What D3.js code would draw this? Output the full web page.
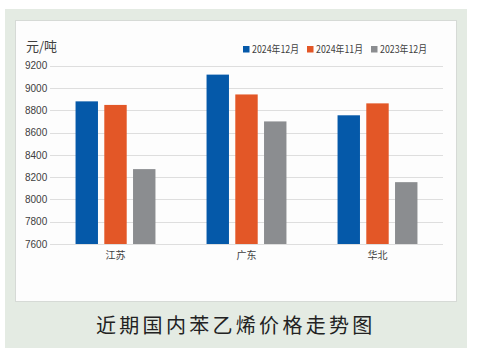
<!DOCTYPE html>
<html><head><meta charset="utf-8">
<script src="https://cdn.jsdelivr.net/npm/d3@7"></script>
<style>
html,body{margin:0;padding:0;background:#fff;}
svg{display:block;font-family:"Noto Sans CJK SC","Noto Sans",sans-serif;}
</style></head>
<body><svg id="c" width="485" height="361"></svg>
<script>
const categories = ["江苏","广东","华北"];
const seriesNames = ["2024年12月","2024年11月","2023年12月"];
const dec2024 = [8880, 9120, 8755];
const nov2024 = [8848, 8942, 8862];
const dec2023 = [8272, 8700, 8155];
const yTicks = [7600,7800,8000,8200,8400,8600,8800,9000,9200];
const colors = ["#0559a9","#e35727","#8b8d90"];
const unitLabel = "元/吨";
const title = "近期国内苯乙烯价格走势图";

const series = [dec2024, nov2024, dec2023];
const svg = d3.select("#c");

svg.append("rect").attr("x",5).attr("y",9).attr("width",462).attr("height",339).attr("fill","#e4ebe3");
svg.append("rect").attr("x",15.5).attr("y",20.5).attr("width",441).attr("height",281).attr("fill","#fdfdfd").attr("stroke","#d6dad6");

const x0 = d3.scaleBand().domain(categories).range([50,443]).paddingInner(0.39).paddingOuter(0.195);
const x1 = d3.scaleBand().domain(seriesNames).range([0,x0.bandwidth()]).paddingInner(0.22);
const y = d3.scaleLinear().domain([7600,9200]).range([244,65.7]);

// gridlines
svg.append("g").selectAll("line").data(yTicks).join("line")
  .attr("x1",50).attr("x2",443).attr("y1",d=>Math.round(y(d))+0.5).attr("y2",d=>Math.round(y(d))+0.5)
  .attr("stroke","#dedede").attr("stroke-width",1);

// y axis labels
const yAxis = d3.axisLeft(y).tickValues(yTicks).tickSize(0).tickPadding(0).tickFormat(d3.format("d"));
const ya = svg.append("g").attr("transform","translate(25,0)").call(yAxis);
ya.select(".domain").remove();
ya.selectAll("text").attr("text-anchor","start").attr("x",0).attr("font-size","10px").attr("fill","#404040")
  .attr("font-family","'Liberation Sans',Arial,sans-serif");

// bars
const g = svg.append("g").selectAll("g").data(categories).join("g")
  .attr("transform",d=>`translate(${x0(d)},0)`);
g.selectAll("rect").data((d,i)=>series.map((s,k)=>({k, v:s[i]}))).join("rect")
  .attr("x",d=>x1(seriesNames[d.k])).attr("width",x1.bandwidth())
  .attr("y",d=>y(d.v)).attr("height",d=>y(7600)-y(d.v))
  .attr("fill",d=>colors[d.k]);

// x axis labels
const xAxis = d3.axisBottom(x0).tickSize(0).tickPadding(0);
const xa = svg.append("g").attr("transform","translate(0,252)").call(xAxis);
xa.select(".domain").remove();
xa.selectAll("text").attr("font-size","10px").attr("fill","#404040").attr("dy","0.7em")
  .attr("font-family","'Noto Sans CJK SC',sans-serif");

// unit label
svg.append("text").attr("x",26).attr("y",50.5).text(unitLabel)
  .attr("font-size","13px").attr("fill","#404040");

// legend
const legX = [243,307,371];
const leg = svg.append("g").selectAll("g").data(seriesNames).join("g")
  .attr("transform",(d,i)=>`translate(${legX[i]},0)`);
leg.append("rect").attr("x",0).attr("y",46).attr("width",6.5).attr("height",6.5).attr("fill",(d,i)=>colors[i]);
leg.append("text").attr("x",9).attr("y",53).text(d=>d).attr("font-size","10px").attr("fill","#404040")
  .attr("textLength",47).attr("lengthAdjust","spacingAndGlyphs");

// title
svg.append("text").attr("x",96).attr("y",333).text(title)
  .attr("font-size","20px").attr("letter-spacing","3.3px").attr("fill","#222");
</script></body></html>
